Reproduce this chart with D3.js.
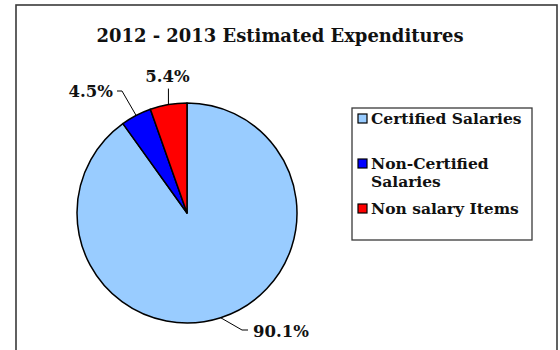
<!DOCTYPE html>
<html>
<head>
<meta charset="utf-8">
<script src="https://cdn.jsdelivr.net/npm/d3@7"></script>
<style>
  html, body { margin: 0; padding: 0; background: #fff; }
  svg { display: block; }
  text { font-family: "DejaVu Serif", "Liberation Serif", serif; font-weight: bold; fill: #111; }
</style>
</head>
<body>
<svg id="chart" width="560" height="350"></svg>
<script>
// Expenditure shares (percent of total)
const categories = ["Certified Salaries", "Non-Certified Salaries", "Non salary Items"];
const values = [90.1, 4.5, 5.4];
const valueLabels = ["90.1%", "4.5%", "5.4%"];
const legendLines = [["Certified Salaries"], ["Non-Certified", "Salaries"], ["Non salary Items"]];
const sliceColors = ["#99CCFF", "#0000FF", "#FF0000"];

const svg = d3.select("#chart");

// Chart frame
svg.append("rect")
  .attr("x", 16).attr("y", 5)
  .attr("width", 541).attr("height", 360)
  .attr("fill", "#fff").attr("stroke", "#3a3a3a").attr("stroke-width", 1.6);

// Title
svg.append("text")
  .attr("x", 280).attr("y", 42)
  .attr("text-anchor", "middle")
  .attr("font-size", 18.5)
  .attr("textLength", 367).attr("lengthAdjust", "spacingAndGlyphs")
  .text("2012 - 2013 Estimated Expenditures");

// Pie
const cx = 187, cy = 213, r = 110;
const pie = d3.pie().sort(null).value(d => d.value);
const rows = categories.map((c, i) => ({ name: c, value: values[i], label: valueLabels[i], color: sliceColors[i] }));
const arcs = pie(rows);
const arc = d3.arc().innerRadius(0).outerRadius(r);
const edge = d3.arc().innerRadius(r).outerRadius(r);

const g = svg.append("g").attr("transform", `translate(${cx},${cy})`);
g.selectAll("path.slice")
  .data(arcs)
  .join("path")
  .attr("class", "slice")
  .attr("d", arc)
  .attr("fill", d => d.data.color)
  .attr("stroke", "#000")
  .attr("stroke-width", 1.5)
  .attr("stroke-linejoin", "round");

// Leader line elbows and label anchors, relative to pie centre
const labelLayout = [
  { elbow: [55, 117], end: [61, 117], text: [66, 124], anchor: "start" },
  { elbow: [-65, -122], end: [-70, -122], text: [-74, -116], anchor: "end" },
  { elbow: null, end: null, text: [-21, -131], anchor: "middle" }
];

arcs.forEach((d, i) => {
  const p = edge.centroid(d);
  const L = labelLayout[i];
  const pts = L.elbow ? [p, L.elbow, L.end] : [p, [p[0], p[1] - 16]];
  g.append("path")
    .attr("d", d3.line()(pts))
    .attr("fill", "none")
    .attr("stroke", "#000")
    .attr("stroke-width", 1);
  g.append("text")
    .attr("x", L.anchor === "middle" ? p[0] - 1 : L.text[0])
    .attr("y", L.text[1])
    .attr("text-anchor", L.anchor)
    .attr("font-size", 16.5)
    .text(d.data.label);
});

// Legend
const legend = svg.append("g");
legend.append("rect")
  .attr("x", 352).attr("y", 108)
  .attr("width", 180).attr("height", 132)
  .attr("fill", "#fff").attr("stroke", "#3a3a3a").attr("stroke-width", 1.3);

const legendTop = [114, 159, 204];
rows.forEach((d, i) => {
  const y = legendTop[i];
  legend.append("rect")
    .attr("x", 358).attr("y", y)
    .attr("width", 9).attr("height", 9)
    .attr("fill", d.color)
    .attr("stroke", "#000").attr("stroke-width", 1.2);
  legendLines[i].forEach((line, j) => {
    legend.append("text")
      .attr("x", 371).attr("y", y + 10 + j * 18)
      .attr("font-size", 15.5)
      .text(line);
  });
});
</script>
</body>
</html>
